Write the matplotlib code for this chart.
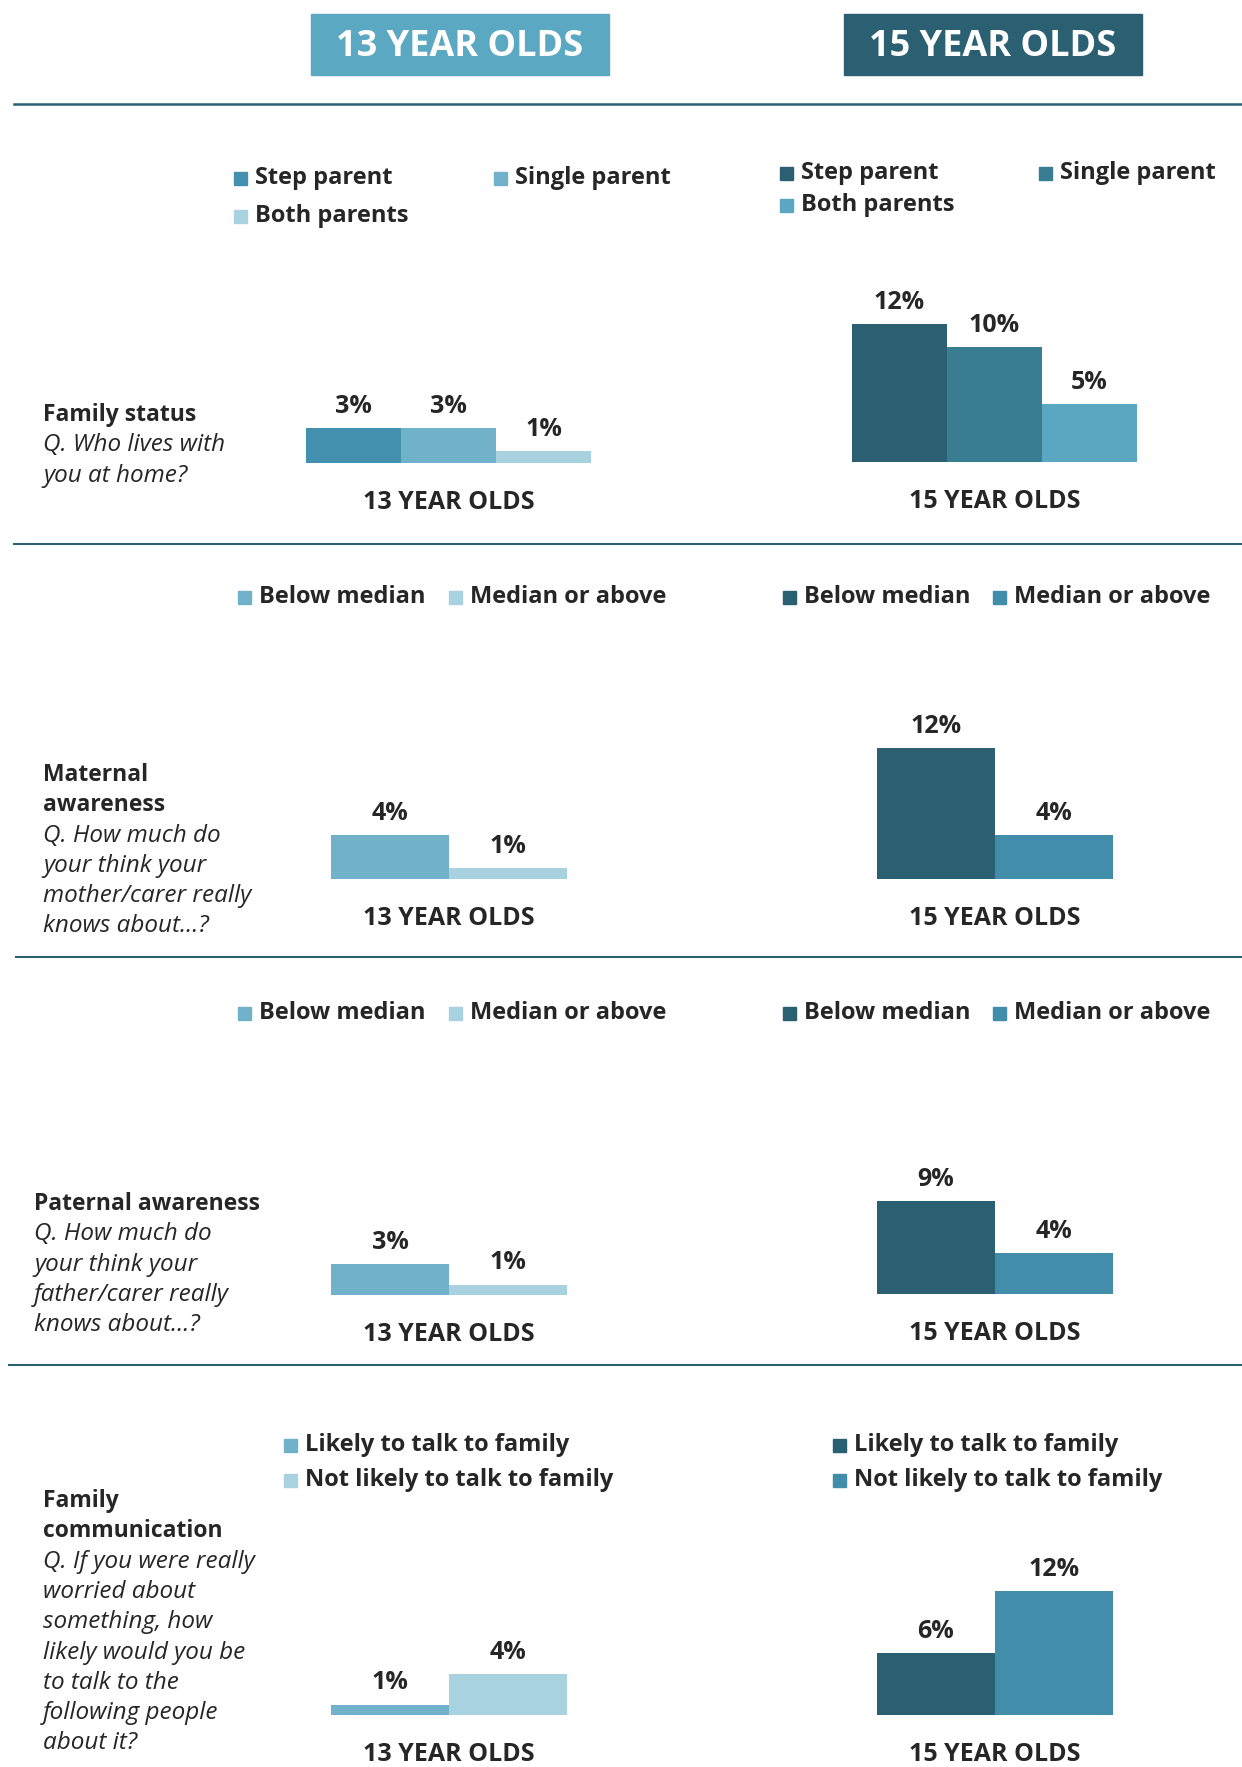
import matplotlib
matplotlib.use("Agg")
from matplotlib import pyplot as plt
from matplotlib.patches import Rectangle

plt.rcParams['font.family'] = ['Open Sans', 'DejaVu Sans']

# data
fam_labels = ["Step parent", "Single parent", "Both parents"]
fam_13 = [3, 3, 1]
fam_15 = [12, 10, 5]

aware_labels = ["Below median", "Median or above"]
mat_13 = [4, 1]
mat_15 = [12, 4]
pat_13 = [3, 1]
pat_15 = [9, 4]

comm_labels = ["Likely to talk to family", "Not likely to talk to family"]
comm_13 = [1, 4]
comm_15 = [6, 12]

groups = ["13 YEAR OLDS", "15 YEAR OLDS"]

# colours
c13_3 = ['#4391AE', '#71B1C9', '#A9D2E0']
c15_3 = ['#2B6072', '#387D92', '#5BA7C1']
c13_2 = ['#71B1C9', '#A9D2E0']
c15_2 = ['#2B6072', '#428DAA']
line_col = '#2B6072'
txt = '#262626'

W, H = 1242, 1767
fig = plt.figure(figsize=(W / 100, H / 100), dpi=100)
bg = fig.add_axes([0, 0, 1, 1])
bg.set_xlim(0, W)
bg.set_ylim(H, 0)
bg.axis('off')

# header boxes
bg.add_patch(Rectangle((311, 14), 298, 61, color='#5BA8C2'))
bg.text(460, 47, groups[0], color='white', fontsize=26, fontweight='bold', ha='center', va='center')
bg.add_patch(Rectangle((844, 14), 298, 61, color='#2B6072'))
bg.text(993, 47, groups[1], color='white', fontsize=26, fontweight='bold', ha='center', va='center')

# separators
bg.plot([14, 1242], [104, 104], color=line_col, lw=1.8)
bg.plot([14, 1242], [544, 544], color=line_col, lw=1.5)
bg.plot([16, 1242], [957, 957], color=line_col, lw=1.5)
bg.plot([9, 1242], [1365, 1365], color=line_col, lw=1.5)


def legend(items, colors):
    for (label, x, y), c in zip(items, colors):
        bg.add_patch(Rectangle((x, y - 6), 13, 13, color=c))
        bg.text(x + 21, y, label, fontsize=17, fontweight='bold', color=txt, va='center')


def side_text(x, y, bold_lines, ital_lines, step=30.3):
    for line in bold_lines:
        bg.text(x, y, line, fontsize=16.5, fontweight='bold', color=txt, va='center')
        y += step
    for line in ital_lines:
        bg.text(x, y, line, fontsize=17.5, style='italic', color=txt, va='center')
        y += step


def panel(left, base, barw, scale, values, colors, group):
    n = len(values)
    ymax = 14
    ax = fig.add_axes([left / W, (H - base) / H, n * barw / W, ymax * scale / H])
    ax.bar(range(n), values, width=1.0, color=colors)
    ax.set_xlim(-0.5, n - 0.5)
    ax.set_ylim(0, ymax)
    ax.axis('off')
    for i, v in enumerate(values):
        ax.annotate(f"{v}%", (i, v), xytext=(0, 11), textcoords='offset points',
                    ha='center', va='baseline', fontsize=18, fontweight='bold', color=txt)
    bg.text(left + n * barw / 2, base + 39, group, fontsize=18, fontweight='bold',
            color=txt, ha='center', va='center')


# section 1 - family status
legend([(fam_labels[0], 234, 178), (fam_labels[1], 494, 178), (fam_labels[2], 234, 216)], c13_3)
legend([(fam_labels[0], 780, 173), (fam_labels[1], 1039, 173), (fam_labels[2], 780, 205)], c15_3)
side_text(43, 415, ["Family status"], ["Q. Who lives with", "you at home?"])
panel(306, 463, 95, 11.5, fam_13, c13_3, groups[0])
panel(852, 462, 95, 11.5, fam_15, c15_3, groups[1])

# section 2 - maternal awareness
legend([(aware_labels[0], 238, 597), (aware_labels[1], 449, 597)], c13_2)
legend([(aware_labels[0], 783, 597), (aware_labels[1], 993, 597)], c15_2)
side_text(43, 775, ["Maternal", "awareness"],
          ["Q. How much do", "your think your", "mother/carer really", "knows about...?"])
panel(331, 879, 118, 10.9, mat_13, c13_2, groups[0])
panel(877, 879, 118, 10.9, mat_15, c15_2, groups[1])

# section 3 - paternal awareness
legend([(aware_labels[0], 238, 1013), (aware_labels[1], 449, 1013)], c13_2)
legend([(aware_labels[0], 783, 1013), (aware_labels[1], 993, 1013)], c15_2)
side_text(34, 1204, ["Paternal awareness"],
          ["Q. How much do", "your think your", "father/carer really", "knows about...?"])
panel(331, 1295, 118, 10.3, pat_13, c13_2, groups[0])
panel(877, 1294, 118, 10.3, pat_15, c15_2, groups[1])

# section 4 - family communication
legend([(comm_labels[0], 284, 1445), (comm_labels[1], 284, 1480)], c13_2)
legend([(comm_labels[0], 833, 1445), (comm_labels[1], 833, 1480)], c15_2)
side_text(43, 1501, ["Family", "communication"],
          ["Q. If you were really", "worried about", "something, how", "likely would you be",
           "to talk to the", "following people", "about it?"])
panel(331, 1715, 118, 10.3, comm_13, c13_2, groups[0])
panel(877, 1715, 118, 10.3, comm_15, c15_2, groups[1])

fig.savefig("out.png", dpi=100)
